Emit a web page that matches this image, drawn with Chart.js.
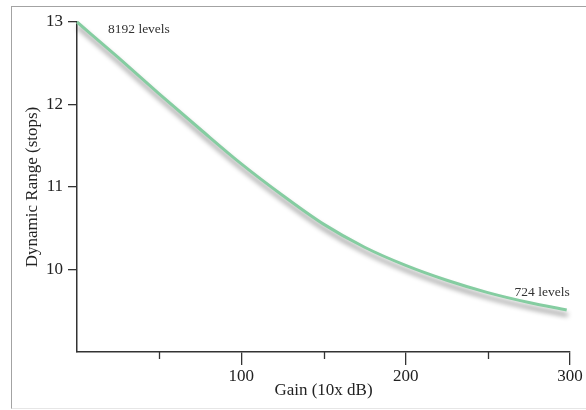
<!DOCTYPE html>
<html>
<head>
<meta charset="utf-8">
<script src="https://cdn.jsdelivr.net/npm/chart.js@4"></script>
<style>
    html, body { margin: 0; padding: 0; background: #fff; }
    #wrap { position: relative; width: 586px; height: 410px; }
    #frame {
        position: absolute; left: 11px; top: 6px; right: 0; bottom: 1px;
        border-left: 1.5px solid #a3a3a3; border-top: 1.5px solid #a3a3a3;
        border-bottom: 1px solid #e6e6e6; pointer-events: none;
    }
    canvas { position: absolute; left: 0; top: 0; }
</style>
</head>
<body>
<div id="wrap">
    <div id="frame"></div>
    <canvas id="rangeChart" width="586" height="410"></canvas>
</div>
<script>
const gain = [0, 25, 50, 75, 100, 125, 150, 175, 200, 225, 250, 275, 298];
const dynamicRange = [13.0, 12.57, 12.13, 11.70, 11.28, 10.90, 10.55, 10.27, 10.05, 9.87, 9.72, 9.60, 9.51];
const startLabel = '8192 levels';
const endLabel = '724 levels';

const serif = "'Liberation Serif', 'DejaVu Serif', serif";
const axisColor = '#333333';

// gray drop shadow under the curve
const shadowPlugin = {
    id: 'lineShadow',
    beforeDatasetsDraw(chart) {
        const c = chart.ctx;
        c.save();
        c.shadowColor = 'rgba(0, 0, 0, 0.45)';
        c.shadowBlur = 5;
        c.shadowOffsetX = 1;
        c.shadowOffsetY = 5;
    },
    afterDatasetsDraw(chart) {
        chart.ctx.restore();
    }
};

// minor ticks on the x axis and the two level notes
const extrasPlugin = {
    id: 'extras',
    afterDraw(chart) {
        const c = chart.ctx;
        const x = chart.scales.x;
        c.save();
        c.strokeStyle = axisColor;
        c.lineWidth = 1.3;
        [50, 150, 250].forEach(v => {
            const px = Math.round(x.getPixelForValue(v)) + 0.5;
            c.beginPath();
            c.moveTo(px, x.top);
            c.lineTo(px, x.top + 7);
            c.stroke();
        });

        const pts = chart.getDatasetMeta(0).data;
        const first = pts[0];
        const last = pts[pts.length - 1];
        c.fillStyle = '#333';
        c.font = '13.5px ' + serif;
        c.textBaseline = 'middle';
        c.textAlign = 'left';
        c.fillText(startLabel, first.x + 31, first.y + 7);
        c.textAlign = 'right';
        c.fillText(endLabel, last.x + 3, last.y - 17);
        c.restore();
    }
};

const ctx = document.getElementById('rangeChart').getContext('2d');

new Chart(ctx, {
    type: 'line',
    data: {
        datasets: [{
            data: gain.map((g, i) => ({ x: g, y: dynamicRange[i] })),
            borderColor: '#85cda1',
            borderWidth: 3,
            pointRadius: 0,
            fill: false,
            cubicInterpolationMode: 'monotone',
            clip: false,
        }]
    },
    options: {
        responsive: false,
        animation: false,
        layout: {
            padding: { left: 11, top: 22, right: 16, bottom: 0 }
        },
        plugins: {
            legend: { display: false },
            tooltip: { enabled: false }
        },
        scales: {
            x: {
                type: 'linear',
                min: 0,
                max: 300,
                afterFit: scale => { scale.height = 58; },
                border: { display: true, color: axisColor, width: 1.5 },
                grid: {
                    drawOnChartArea: false,
                    drawTicks: true,
                    tickLength: 13,
                    lineWidth: 1.3,
                    color: c => (c.tick && c.tick.value % 100 === 0 && c.tick.value > 0) ? axisColor : 'rgba(0,0,0,0)'
                },
                ticks: {
                    stepSize: 50,
                    padding: 1,
                    color: '#222',
                    font: { family: serif, size: 17 },
                    maxRotation: 0,
                    autoSkip: false,
                    callback: v => (v % 100 === 0 && v > 0) ? String(v) : ''
                },
                title: {
                    display: true,
                    text: 'Gain (10x dB)',
                    color: '#222',
                    font: { family: serif, size: 17 },
                    padding: { top: 0, bottom: 9 }
                }
            },
            y: {
                type: 'linear',
                min: 9,
                max: 13,
                afterFit: scale => { scale.width = 66; },
                border: { display: true, color: axisColor, width: 1.5 },
                grid: {
                    drawOnChartArea: false,
                    drawTicks: true,
                    tickLength: 9,
                    lineWidth: 1.3,
                    color: c => (c.tick && c.tick.value > 9) ? axisColor : 'rgba(0,0,0,0)'
                },
                ticks: {
                    stepSize: 1,
                    padding: 5,
                    color: '#222',
                    font: { family: serif, size: 17 },
                    callback: v => v > 9 ? String(v) : ''
                },
                title: {
                    display: true,
                    text: 'Dynamic Range (stops)',
                    color: '#222',
                    font: { family: serif, size: 17 },
                    padding: { top: 11, bottom: 0 }
                }
            }
        }
    },
    plugins: [shadowPlugin, extrasPlugin]
});
</script>
</body>
</html>
